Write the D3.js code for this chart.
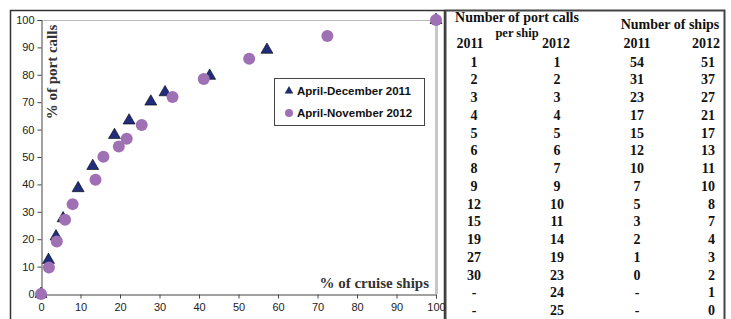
<!DOCTYPE html>
<html>
<head>
<meta charset="utf-8">
<script src="https://cdn.jsdelivr.net/npm/d3@7"></script>
<style>
  html, body { margin: 0; padding: 0; background: #fff; }
  svg { display: block; }
</style>
</head>
<body>
<svg id="chart" width="731" height="319"></svg>
<script>
// Data ----------------------------------------------------------------------
const ships2011X = [0, 1.9, 3.8, 5.6, 9.4, 13.1, 18.6, 22.3, 27.8, 31.4, 42.7, 57.2, 100];
const calls2011Y = [0, 12.4, 21, 27.6, 38.6, 46.7, 58, 63.3, 70.2, 73.6, 79.6, 89.1, 100];
const ships2012X = [0, 2.0, 4.0, 6.1, 8.0, 13.8, 15.8, 19.7, 21.7, 25.5, 33.3, 41.2, 52.7, 72.5, 100];
const calls2012Y = [0, 9.7, 19.2, 27.1, 32.8, 41.7, 50.1, 53.8, 56.7, 61.7, 71.9, 78.5, 85.9, 94.2, 100];
const seriesNames = ["April-December 2011", "April-November 2012"];
const axisTicks = [0, 10, 20, 30, 40, 50, 60, 70, 80, 90, 100];

// table columns
const portCalls2011 = ["1", "2", "3", "4", "5", "6", "8", "9", "12", "15", "19", "27", "30", "-", "-"];
const portCalls2012 = ["1", "2", "3", "4", "5", "6", "7", "9", "10", "11", "14", "19", "23", "24", "25"];
const numShips2011 = ["54", "31", "23", "17", "15", "12", "10", "7", "5", "3", "2", "1", "0", "-", "-"];
const numShips2012 = ["51", "37", "27", "21", "17", "13", "11", "10", "8", "7", "4", "3", "2", "1", "0"];

// Layout --------------------------------------------------------------------
const svg = d3.select("#chart");
const plot = { left: 41, right: 436, top: 20, bottom: 294 };
const serif = "'Liberation Serif', 'Times New Roman', serif";
const sans = "'Liberation Sans', Arial, sans-serif";
const triColor = "#1f2d7c";
const dotColor = "#a070b5";

const x = d3.scaleLinear().domain([0, 100]).range([plot.left, plot.right]);
const y = d3.scaleLinear().domain([0, 100]).range([plot.bottom, plot.top]);

// outer frames
svg.append("path")
  .attr("d", "M10.5,330 V10.5 H444.5 V330")
  .attr("fill", "none").attr("stroke", "#333").attr("stroke-width", 1.5);
svg.append("path")
  .attr("d", "M445.5,330 V10.5 H724.5 V330")
  .attr("fill", "none").attr("stroke", "#444").attr("stroke-width", 2);

// plot area border (top + right, light gray)
svg.append("line")
  .attr("x1", plot.left).attr("x2", plot.right)
  .attr("y1", plot.top + 0.5).attr("y2", plot.top + 0.5)
  .attr("stroke", "#b8b8b8").attr("stroke-width", 1);
svg.append("line")
  .attr("x1", plot.right + 0.5).attr("x2", plot.right + 0.5)
  .attr("y1", plot.top).attr("y2", plot.bottom)
  .attr("stroke", "#c4c8c8").attr("stroke-width", 3);

// axes
const xAxis = svg.append("g")
  .attr("transform", `translate(0,${plot.bottom + 0.5})`)
  .call(d3.axisBottom(x).tickValues(axisTicks).tickSize(4).tickPadding(5));
const yAxis = svg.append("g")
  .attr("transform", `translate(${plot.left + 0.5},0)`)
  .call(d3.axisLeft(y).tickValues(axisTicks).tickSize(4).tickPadding(3));
[xAxis, yAxis].forEach(g => {
  g.select(".domain").attr("stroke", "#444");
  g.selectAll(".tick line").attr("stroke", "#444");
  g.selectAll("text").attr("font-family", sans).attr("font-size", 11).attr("fill", "#222");
});

// axis titles
svg.append("text")
  .attr("transform", "translate(57,72) rotate(-90)")
  .attr("text-anchor", "middle")
  .attr("font-family", serif).attr("font-weight", "bold").attr("font-size", 15)
  .attr("fill", "#333")
  .text("% of port calls");
svg.append("text")
  .attr("x", 429).attr("y", 288)
  .attr("text-anchor", "end")
  .attr("font-family", serif).attr("font-weight", "bold").attr("font-size", 15)
  .attr("fill", "#333")
  .text("% of cruise ships");

// series
const tri = d3.symbol().type(d3.symbolTriangle);
svg.append("g").selectAll("path")
  .data(d3.zip(ships2011X, calls2011Y))
  .join("path")
  .attr("transform", d => `translate(${x(d[0])},${y(d[1])})`)
  .attr("d", tri.size(62))
  .attr("fill", triColor).attr("stroke", "#000").attr("stroke-width", 0.6);

svg.append("g").selectAll("circle")
  .data(d3.zip(ships2012X, calls2012Y))
  .join("circle")
  .attr("cx", d => x(d[0])).attr("cy", d => y(d[1]))
  .attr("r", 6)
  .attr("fill", dotColor);

// legend
const legend = svg.append("g");
legend.append("rect")
  .attr("x", 274.5).attr("y", 78.5).attr("width", 150).attr("height", 47)
  .attr("fill", "#fff").attr("stroke", "#444").attr("stroke-width", 1);
legend.append("path")
  .attr("transform", "translate(289,91)")
  .attr("d", d3.symbol().type(d3.symbolTriangle).size(26)())
  .attr("fill", triColor).attr("stroke", "#000").attr("stroke-width", 0.4);
legend.append("circle")
  .attr("cx", 289).attr("cy", 113).attr("r", 4)
  .attr("fill", dotColor);
legend.selectAll("text")
  .data(seriesNames)
  .join("text")
  .attr("x", 297).attr("y", (d, i) => 95 + i * 22)
  .attr("font-family", sans).attr("font-weight", "bold").attr("font-size", 11.5)
  .attr("fill", "#111")
  .text(d => d);

// table ---------------------------------------------------------------------
const table = svg.append("g")
  .attr("font-family", serif).attr("font-weight", "bold").attr("fill", "#111");

const header = [
  { t: "Number of port calls", x: 517, y: 22, s: 14, a: "middle" },
  { t: "per ship", x: 517, y: 37, s: 12.5, a: "middle" },
  { t: "2011", x: 470, y: 48, s: 14, a: "middle" },
  { t: "2012", x: 556, y: 48, s: 14, a: "middle" },
  { t: "Number of ships", x: 670, y: 29, s: 14, a: "middle" },
  { t: "2011", x: 637, y: 48, s: 14, a: "middle" },
  { t: "2012", x: 720, y: 48, s: 14, a: "end" }
];
table.selectAll("text.head")
  .data(header)
  .join("text")
  .attr("class", "head")
  .attr("x", d => d.x).attr("y", d => d.y)
  .attr("text-anchor", d => d.a)
  .attr("font-size", d => d.s)
  .text(d => d.t);

const rowY = d3.scaleLinear().domain([0, portCalls2011.length - 1]).range([66.5, 315]);
const columns = [
  { values: portCalls2011, x: 474, a: "middle" },
  { values: portCalls2012, x: 557, a: "middle" },
  { values: numShips2011, x: 637, a: "middle" },
  { values: numShips2012, x: 715, a: "end" }
];
columns.forEach(col => {
  table.append("g").selectAll("text")
    .data(col.values)
    .join("text")
    .attr("x", col.x).attr("y", (d, i) => rowY(i))
    .attr("text-anchor", col.a)
    .attr("font-size", 14)
    .text(d => d);
});
</script>
</body>
</html>
